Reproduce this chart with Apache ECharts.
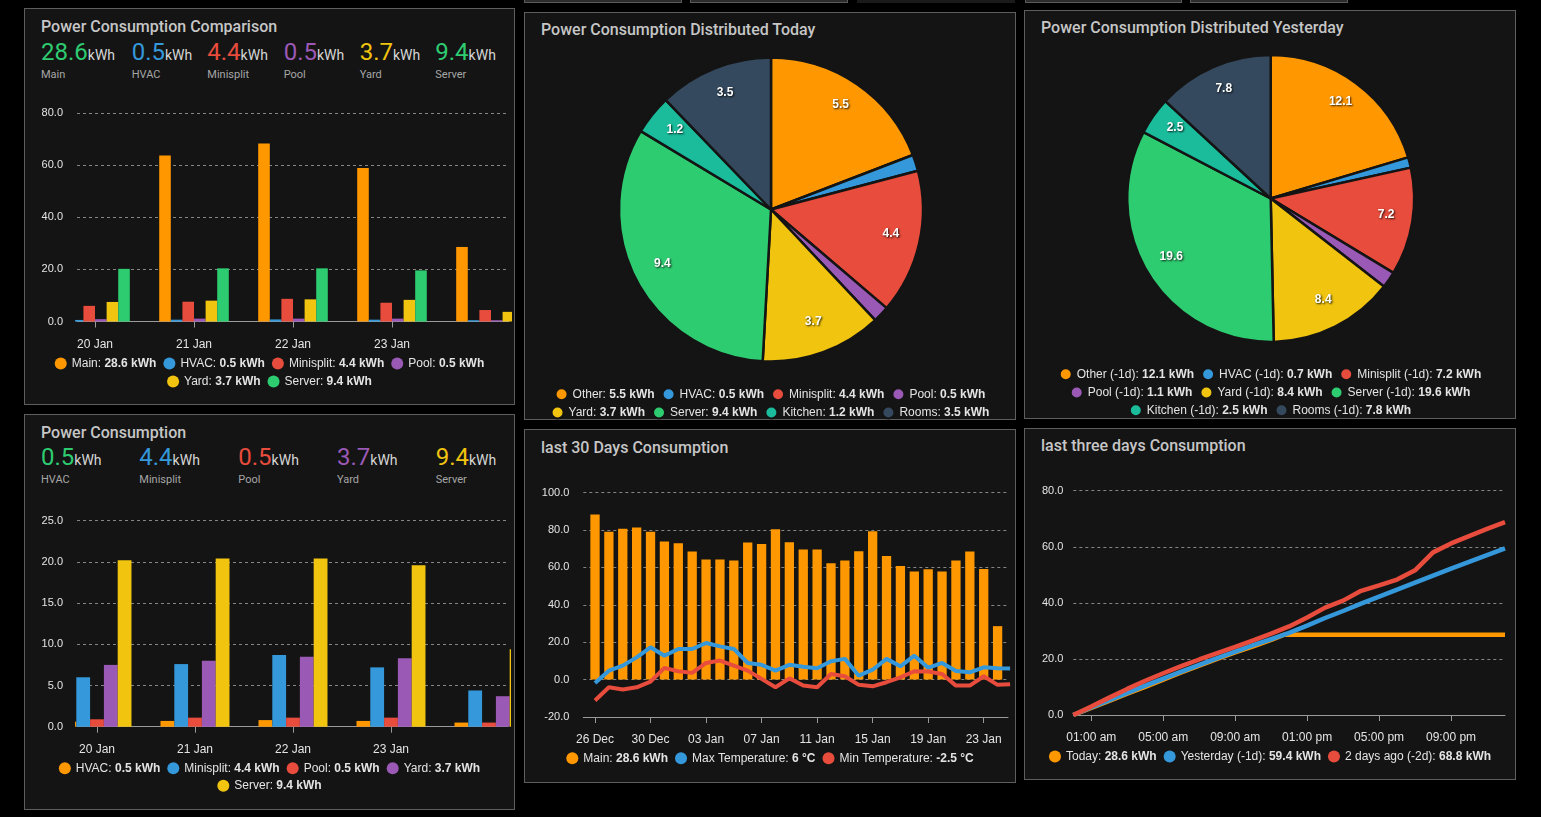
<!DOCTYPE html>
<html>
<head>
<meta charset="utf-8">
<title>Power Consumption Dashboard</title>
<script src="https://cdn.jsdelivr.net/npm/echarts@6/dist/echarts.min.js"></script>
<style>
  html, body { margin:0; padding:0; background:#000; width:1541px; height:817px; overflow:hidden; }
  .panel { position:absolute; box-sizing:border-box; border:1px solid #5e5e5e; background:#141414; }
  .tab { position:absolute; top:-2px; height:5px; box-sizing:border-box; border:1px solid #5a5a5a; background:#2c2c2c; }
  .chart { position:absolute; }
  .title { position:absolute; font-family:Roboto, sans-serif; font-size:16px; line-height:16px; font-weight:500; color:#c6c6c6; white-space:nowrap; }
  .val { position:absolute; font-family:Roboto, sans-serif; font-size:24px; line-height:24px; white-space:nowrap; }
  .val span { font-size:14px; line-height:14px; color:#d6d6d6; }
  .lbl { position:absolute; font-family:Roboto, sans-serif; font-size:11px; line-height:11px; color:#a6a6a6; white-space:nowrap; }
</style>
</head>
<body>
<script>
// ================= DATA =================
const compareDays = ['20 Jan', '21 Jan', '22 Jan', '23 Jan', '24 Jan'];
const mainDaily5 = [62.0, 63.7, 68.3, 58.9, 28.6];
const hvacDaily5 = [0.6, 0.7, 0.8, 0.7, 0.5];
const minisplitDaily5 = [6.0, 7.6, 8.7, 7.2, 4.4];
const poolDaily5 = [0.9, 1.1, 1.1, 1.1, 0.5];
const yardDaily5 = [7.5, 8.0, 8.5, 8.3, 3.7];
const serverDaily5 = [20.2, 20.4, 20.4, 19.6, 9.4];

const pieNames = ['Other', 'HVAC', 'Minisplit', 'Pool', 'Yard', 'Server', 'Kitchen', 'Rooms'];
const pieToday = [5.5, 0.5, 4.4, 0.5, 3.7, 9.4, 1.2, 3.5];
const pieYesterday = [12.1, 0.7, 7.2, 1.1, 8.4, 19.6, 2.5, 7.8];

const days30 = ['26 Dec', '27 Dec', '28 Dec', '29 Dec', '30 Dec', '31 Dec', '01 Jan', '02 Jan', '03 Jan', '04 Jan',
  '05 Jan', '06 Jan', '07 Jan', '08 Jan', '09 Jan', '10 Jan', '11 Jan', '12 Jan', '13 Jan', '14 Jan',
  '15 Jan', '16 Jan', '17 Jan', '18 Jan', '19 Jan', '20 Jan', '21 Jan', '22 Jan', '23 Jan', '24 Jan'];
const mainDaily30 = [88.4, 79.1, 80.7, 81.4, 79.1, 73.9, 73.0, 68.5, 64.3, 64.3,
  63.7, 73.4, 72.5, 80.4, 73.5, 69.6, 69.6, 62.3, 63.7, 68.7,
  79.4, 66.2, 60.8, 57.8, 59.0, 57.8, 63.7, 68.5, 59.2, 28.6];
const tempDays = [0, 1, 2, 3, 4, 5, 6, 7, 8, 9, 10, 11, 12, 13, 14, 15, 16, 17, 18, 19, 20, 21, 22, 23, 24, 25, 26, 27, 28, 29, 29.9];
const maxTemp = [-1.8, 4.8, 7.5, 11.9, 17.3, 12.8, 16.4, 16.4, 19.6, 17.8, 16.4, 8.9, 7.9, 4.8, 7.9, 6.9,
  6.1, 9.8, 11.1, 2.1, 5.3, 11.1, 7.1, 12.8, 6.3, 8.9, 4.6, 3.9, 6.6, 6.1, 6];
const minTemp = [-11.2, -4.1, -5.3, -4.1, -1.1, 6.3, 4.5, 3.6, 8.9, 10.2, 7.5, 4.8, 0.4, -4.1, 0.7, -3.2,
  -4.1, 3.0, 1.8, -2.8, -3.6, -1.4, 1.2, 4.5, 4.3, 3.0, -3.2, -3.2, 1.8, -2.8, -2.5];
const dayTicks30 = [0, 4, 8, 12, 16, 20, 24, 28];

const hours = [0, 1, 2, 3, 4, 5, 6, 7, 8, 9, 10, 11, 12, 13, 14, 15, 16, 17, 18, 19, 20, 21, 22, 23, 24];
const todayHours = [0, 1, 2, 3, 4, 5, 6, 7, 8, 9, 10, 11, 11.7, 24];
const todayCum = [0, 2.5, 5.0, 7.6, 10.0, 12.6, 15.2, 17.6, 20.0, 22.3, 24.5, 26.8, 28.6, 28.6];
const yesterdayCum = [0, 2.7, 5.3, 7.9, 10.5, 13.0, 15.5, 17.9, 20.3, 22.6, 24.9, 27.1, 29.3,
  31.9, 34.6, 37.1, 39.7, 42.2, 44.7, 47.2, 49.7, 52.2, 54.6, 57.0, 59.4];
const twoDaysCum = [0, 3.0, 6.2, 9.3, 12.2, 14.9, 17.4, 19.8, 22.1, 24.3, 26.6, 29.0, 31.6,
  34.8, 38.3, 40.8, 44.3, 46.2, 48.3, 51.6, 58.0, 61.2, 63.8, 66.4, 68.8];
const hourTicks = [1, 5, 9, 13, 17, 21];
const hourTickLabels = ['01:00 am', '05:00 am', '09:00 am', '01:00 pm', '05:00 pm', '09:00 pm'];

// ================= STYLE =================
const C = { orange:'#ff9800', blue:'#3498db', red:'#e74c3c', purple:'#9b59b6', yellow:'#f1c40f',
  green:'#2ecc71', teal:'#1abc9c', navy:'#34495e' };
const FONT = '"Liberation Sans", Arial, Helvetica, sans-serif';
const TXT = '#e4e4e4';
const GRID_LINE = '#858585';
const AXIS_LINE = '#9a9a9a';
const last = a => a[a.length - 1];

const PANELS = {
  cmp:   { x:24,   y:8,   w:491, h:397 },
  pc:    { x:24,   y:414, w:491, h:396 },
  today: { x:524,  y:12,  w:492, h:408 },
  yest:  { x:1024, y:10,  w:492, h:409 },
  d30:   { x:524,  y:429, w:492, h:354 },
  d3:    { x:1024, y:428, w:492, h:352 }
};

function el(cls, css, html) {
  const d = document.createElement('div');
  d.className = cls;
  Object.assign(d.style, css);
  if (html != null) d.innerHTML = html;
  document.body.appendChild(d);
  return d;
}

// top partial tabs
[[524, 682], [690, 848], [1025, 1182], [1190, 1348]].forEach(([a, b]) =>
  el('tab', { left:a + 'px', width:(b - a) + 'px' }));
el('tab', { left:'857px', width:'158px', background:'#1a1a1a', border:'none' });

Object.values(PANELS).forEach(p =>
  el('panel', { left:p.x + 'px', top:p.y + 'px', width:p.w + 'px', height:p.h + 'px' }));

// titles
[['Power Consumption Comparison', 41, 18.5], ['Power Consumption', 41, 424.5],
 ['Power Consumption Distributed Today', 541, 21.5], ['Power Consumption Distributed Yesterday', 1041, 19.8],
 ['last 30 Days Consumption', 541, 439.8], ['last three days Consumption', 1041, 437.5]]
  .forEach(([t, x, y]) => el('title', { left:x + 'px', top:y + 'px' }).textContent = t);

// header stats
function stats(names, arrays, colors, xs, valTop, lblTop) {
  names.forEach((n, i) => {
    el('val', { left:xs[i] + 'px', top:valTop + 'px', color:colors[i] },
      last(arrays[i]).toFixed(1) + '<span>kWh</span>');
    el('lbl', { left:xs[i] + 'px', top:lblTop + 'px' }).textContent = n;
  });
}

const cmpNames = ['Main', 'HVAC', 'Minisplit', 'Pool', 'Yard', 'Server'];
const cmpData = [mainDaily5, hvacDaily5, minisplitDaily5, poolDaily5, yardDaily5, serverDaily5];
const cmpColors = [C.orange, C.blue, C.red, C.purple, C.yellow, C.green];
stats(cmpNames, cmpData, [C.green, C.blue, C.red, C.purple, C.yellow, C.green],
  [41, 131.7, 207.3, 283.7, 359.7, 435.3], 39.5, 68.7);

const pcNames = ['HVAC', 'Minisplit', 'Pool', 'Yard', 'Server'];
const pcData = [hvacDaily5, minisplitDaily5, poolDaily5, yardDaily5, serverDaily5];
const pcColors = [C.orange, C.blue, C.red, C.purple, C.yellow];
stats(pcNames, pcData, [C.green, C.blue, C.red, C.purple, C.yellow],
  [41, 139.3, 238.3, 337, 435.7], 445.1, 474.4);

// ================= CHART HELPERS =================
function makeChart(p, option) {
  const d = el('chart', { left:p.x + 'px', top:p.y + 'px', width:p.w + 'px', height:p.h + 'px' });
  const ch = echarts.init(d, null, { renderer:'canvas', width:p.w, height:p.h });
  ch.setOption(Object.assign({ animation:false, backgroundColor:'transparent',
    textStyle:{ fontFamily:FONT } }, option));
  return ch;
}
function yAxisCfg(min, max, interval, margin) {
  return { type:'value', min, max, interval,
    axisLine:{ show:false }, axisTick:{ show:false },
    axisLabel:{ color:TXT, fontSize:11, fontFamily:FONT, margin, formatter:v => v.toFixed(1) },
    splitLine:{ show:true, lineStyle:{ color:GRID_LINE, type:[3, 3], width:1 } } };
}
function xAxisCfg(min, max, ticks, fmt) {
  return { type:'value', min, max, splitLine:{ show:false },
    axisLine:{ show:true, onZero:false, lineStyle:{ color:AXIS_LINE, width:1 } },
    axisTick:{ show:true, customValues:ticks, length:6, lineStyle:{ color:AXIS_LINE } },
    axisLabel:{ customValues:ticks, formatter:fmt, color:TXT, fontSize:12, fontFamily:FONT, margin:17 } };
}
function legendRow(names, valueOf, top) {
  return { data:names, top:top + 2.5, left:'center', icon:'circle', itemWidth:12, itemHeight:12, itemGap:7,
    selectedMode:false, padding:0,
    formatter:n => '{n|' + n + ': }{v|' + valueOf(n) + '}',
    textStyle:{ color:TXT, fontSize:12, fontFamily:FONT,
      rich:{ n:{ color:TXT, fontSize:12, fontFamily:FONT },
             v:{ color:TXT, fontSize:12, fontFamily:FONT, fontWeight:'bold' } } } };
}
function grid(left, right, top, bottom) {
  return { left, right, top, bottom, containLabel:false, outerBoundsMode:'none' };
}
// grouped bars on a value (day) axis, clipped close to the plot area
function barSeries(names, arrays, colors, width) {
  const n = names.length;
  return names.map((name, i) => ({
    type:'custom', name, clip:false, itemStyle:{ color:colors[i] },
    data:arrays[i].map((v, j) => [j, v]), encode:{ x:0, y:1 },
    renderItem:(params, api) => {
      const base = api.coord([api.value(0), 0]);
      const top = api.coord([api.value(0), api.value(1)]);
      const x = base[0] + (i - (n - 1) / 2) * width - width / 2;
      const cs = params.coordSys;
      const shape = echarts.graphic.clipRectByRect(
        { x, y:top[1], width, height:base[1] - top[1] },
        { x:cs.x - 2, y:cs.y, width:cs.width + 5, height:cs.height });
      return shape ? { type:'rect', shape, style:{ fill:colors[i] } } : null;
    }
  }));
}

// ================= PANEL 1: comparison =================
{
  const vmap = {}; cmpNames.forEach((n, i) => vmap[n] = last(cmpData[i]).toFixed(1) + ' kWh');
  makeChart(PANELS.cmp, {
    grid:grid(53, 6, 105, 83.5),
    xAxis:xAxisCfg(-0.182, 4.182, [0, 1, 2, 3], v => compareDays[v]),
    yAxis:yAxisCfg(0, 80, 20, 14),
    legend:[legendRow(cmpNames.slice(0, 4), n => vmap[n], 347), legendRow(cmpNames.slice(4), n => vmap[n], 365)],
    series:barSeries(cmpNames, cmpData, cmpColors, 11.6)
  });
}

// ================= PANEL 2: power consumption =================
{
  const vmap = {}; pcNames.forEach((n, i) => vmap[n] = last(pcData[i]).toFixed(1) + ' kWh');
  makeChart(PANELS.pc, {
    grid:grid(53, 7, 106.7, 83.3),
    xAxis:xAxisCfg(-0.204, 4.194, [0, 1, 2, 3], v => compareDays[v]),
    yAxis:yAxisCfg(0, 25, 5, 14),
    legend:[legendRow(pcNames.slice(0, 4), n => vmap[n], 345.7), legendRow(pcNames.slice(4), n => vmap[n], 363.3)],
    series:barSeries(pcNames, pcData, pcColors, 13.8)
  });
}

// ================= PIES =================
const pieColors = [C.orange, C.blue, C.red, C.purple, C.yellow, C.green, C.teal, C.navy];
function pieOption(names, values, center, r, labelR, rows) {
  const vmap = {}; names.forEach((n, i) => vmap[n] = values[i].toFixed(1) + ' kWh');
  return {
    legend:rows.map(([a, b, top]) => legendRow(names.slice(a, b), n => vmap[n], top)),
    series:[
      { type:'pie', name:'slices', center, radius:[0, r], startAngle:90, clockwise:true,
        data:names.map((n, i) => ({ name:n, value:values[i], itemStyle:{ color:pieColors[i] } })),
        label:{ show:false }, labelLine:{ show:false }, emphasis:{ disabled:true },
        itemStyle:{ borderColor:'#141414', borderWidth:2.5 } },
      { type:'pie', name:'labels', center, radius:labelR, startAngle:90, clockwise:true, silent:true,
        minShowLabelAngle:10,
        data:names.map((n, i) => ({ name:n + ' value', value:values[i] })),
        itemStyle:{ color:'rgba(0,0,0,0)' }, labelLine:{ show:false }, emphasis:{ disabled:true },
        label:{ show:true, position:'inside', offset:[0, -3], formatter:p => String(p.value), color:'#fff',
          fontWeight:'bold', fontSize:12, fontFamily:FONT,
          textShadowColor:'rgba(0,0,0,0.85)', textShadowBlur:2, textShadowOffsetX:1, textShadowOffsetY:1 } }
    ]
  };
}
makeChart(PANELS.today, pieOption(pieNames, pieToday, [247, 197.5], 152, [93, 147],
  [[0, 4, 372.7], [4, 8, 391]]));
const yNames = pieNames.map(n => n + ' (-1d)');
makeChart(PANELS.yest, pieOption(yNames, pieYesterday, [246.7, 188.5], 143.5, [87, 141],
  [[0, 3, 354.7], [3, 6, 373], [6, 8, 390.7]]));

// ================= PANEL 5: 30 days =================
{
  const vtext = { 'Main':last(mainDaily30).toFixed(1) + ' kWh', 'Max Temperature':last(maxTemp) + ' °C',
    'Min Temperature':last(minTemp) + ' °C' };
  makeChart(PANELS.d30, {
    grid:grid(59.3, 8, 63.7, 66),
    xAxis:xAxisCfg(-0.843, 29.75, dayTicks30, v => days30[v]),
    yAxis:yAxisCfg(-20, 100, 20, 14),
    legend:[legendRow(['Main', 'Max Temperature', 'Min Temperature'], n => vtext[n], 320.7)],
    series:[
      { type:'bar', name:'Main', data:mainDaily30.map((v, i) => [i, v]), barWidth:9.3,
        itemStyle:{ color:C.orange }, emphasis:{ disabled:true } },
      { type:'line', name:'Max Temperature', data:maxTemp.map((v, i) => [tempDays[i], v]), symbol:'none',
        clip:false, lineStyle:{ width:4, color:C.blue }, itemStyle:{ color:C.blue }, emphasis:{ disabled:true } },
      { type:'line', name:'Min Temperature', data:minTemp.map((v, i) => [tempDays[i], v]), symbol:'none',
        clip:false, lineStyle:{ width:4, color:C.red }, itemStyle:{ color:C.red }, emphasis:{ disabled:true } }
    ]
  });
}

// ================= PANEL 6: three days =================
{
  const vtext = { 'Today':last(todayCum).toFixed(1) + ' kWh', 'Yesterday (-1d)':last(yesterdayCum).toFixed(1) + ' kWh',
    '2 days ago (-2d)':last(twoDaysCum).toFixed(1) + ' kWh' };
  const line = (name, xs, ys, color) => ({ type:'line', name, data:ys.map((v, i) => [xs[i], v]), symbol:'none',
    lineStyle:{ width:4.5, color }, itemStyle:{ color }, emphasis:{ disabled:true } });
  makeChart(PANELS.d3, {
    grid:grid(49.3, 11, 62.7, 65),
    xAxis:xAxisCfg(0, 24, hourTicks, v => hourTickLabels[hourTicks.indexOf(v)]),
    yAxis:yAxisCfg(0, 80, 20, 10),
    legend:[legendRow(['Today', 'Yesterday (-1d)', '2 days ago (-2d)'], n => vtext[n], 320)],
    series:[
      line('Today', todayHours, todayCum, C.orange),
      line('Yesterday (-1d)', hours, yesterdayCum, C.blue),
      line('2 days ago (-2d)', hours, twoDaysCum, C.red)
    ]
  });
}
</script>
</body>
</html>
